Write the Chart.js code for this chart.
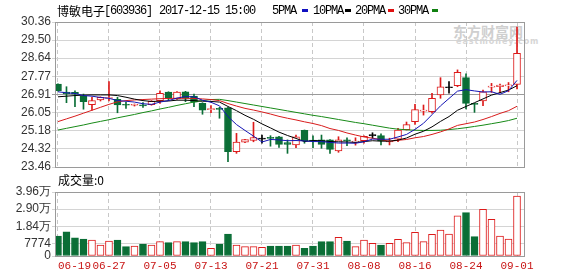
<!DOCTYPE html>
<html><head><meta charset="utf-8">
<script src="https://cdn.jsdelivr.net/npm/chart.js@4.4.1/dist/chart.umd.min.js"></script>
<style>
html,body{margin:0;padding:0;background:#fff;}
#wrap{position:relative;width:578px;height:276px;overflow:hidden;background:#fff;}
canvas{position:absolute;left:0;top:0;}
.t{position:absolute;white-space:nowrap;font-family:"Liberation Mono",monospace;font-size:12px;letter-spacing:-1.2px;color:#000;line-height:14px;top:4px;}
.k{position:absolute;width:6px;height:3px;top:9px;}
.wm{position:absolute;white-space:nowrap;}
</style></head><body>
<div id="wrap">
<div class="wm" style="left:453px;top:21px;font-family:'Noto Sans CJK SC';font-weight:bold;font-size:14px;color:#cfcfcf;">东方财富网</div>
<div class="wm" style="left:456px;top:37px;font-family:'DejaVu Sans';font-weight:bold;font-size:8px;letter-spacing:1px;color:#d6d6d6;">eastmoney.com</div>
<canvas id="c1" width="578" height="276"></canvas>
<canvas id="c2" width="578" height="276"></canvas>
<div class="t" style="left:57px;font-family:'Noto Sans CJK SC';letter-spacing:0;">博敏电子</div>
<div class="t" style="left:104px;">[603936]</div>
<div class="t" style="left:159px;">2017-12-15 15:00</div>
<div class="t" style="left:272px;">5PMA</div><div class="k" style="left:302px;background:#1010c0;"></div>
<div class="t" style="left:313px;">10PMA</div><div class="k" style="left:345px;background:#000;"></div>
<div class="t" style="left:355px;">20PMA</div><div class="k" style="left:388px;background:#e01010;"></div>
<div class="t" style="left:398px;">30PMA</div><div class="k" style="left:432px;background:#108010;"></div>
<div class="t" style="left:58px;top:173px;font-family:'Noto Sans CJK SC';letter-spacing:0;">成交量:0</div>
</div>
<script>
const dates = ['06-19','06-20','06-21','06-22','06-23','06-26','06-27','06-28','06-29','06-30','07-03','07-04','07-05','07-06','07-07','07-10','07-11','07-12','07-13','07-14','07-17','07-18','07-19','07-20','07-21','07-24','07-25','07-26','07-27','07-28','07-31','08-01','08-02','08-03','08-04','08-07','08-08','08-09','08-10','08-11','08-14','08-15','08-16','08-17','08-18','08-21','08-22','08-23','08-24','08-25','08-28','08-29','08-30','08-31','09-01'];
const open  = [27.40,27.03,27.01,26.84,26.43,26.65,26.72,26.68,26.42,26.40, 26.39,26.43,26.62,27.02,26.70,27.04,26.84,26.49,26.19,26.22, 26.28,24.19,24.64,24.73,24.79,24.84,24.90,24.62,24.51,25.21, 24.71,24.75,24.75,24.22,24.73,24.64,24.71,24.95,24.95,24.65, 24.79,25.24,25.62,26.12,26.09,26.89,27.23,27.33,27.71,26.46, 26.60,27.26,27.28,27.32,27.39];
const high  = [27.42,27.28,27.09,26.93,26.78,26.80,27.52,26.78,26.55,26.46, 26.52,26.62,27.09,27.04,27.05,27.06,26.93,26.52,26.38,26.30, 26.30,25.06,24.78,25.59,24.98,24.95,24.92,24.75,24.98,25.22, 24.94,24.98,24.76,24.90,24.85,24.85,24.94,25.09,25.04,24.83, 25.30,25.60,26.44,26.41,26.97,27.71,27.52,28.08,27.89,26.49, 27.12,27.44,27.40,27.48,30.12];
const low   = [27.07,26.52,26.33,26.21,26.17,26.60,26.60,26.04,26.25,26.36, 26.30,26.40,26.49,26.62,26.68,26.57,26.33,25.97,26.04,25.78, 23.71,24.11,24.62,24.66,24.59,24.45,24.39,24.11,24.38,24.59, 24.38,24.35,24.11,24.16,24.47,24.50,24.59,24.83,24.51,24.51, 24.66,25.22,25.49,25.93,26.02,26.73,26.97,27.28,26.22,26.06, 26.38,27.01,26.98,27.04,27.17];
const close = [27.09,26.95,26.93,26.57,26.62,26.78,26.74,26.41,26.40,26.42, 26.37,26.59,26.97,26.73,27.02,26.73,26.54,26.17,26.22,26.20, 24.19,24.64,24.76,24.86,24.79,24.82,24.54,24.54,24.90,24.70, 24.69,24.54,24.30,24.75,24.70,24.66,24.92,24.95,24.70,24.68, 25.22,25.48,26.19,26.15,26.73,27.28,27.23,27.97,26.49,26.44, 27.04,27.28,27.36,27.34,28.87];
const volume = [12400,15000,11300,10500,9900,6800,9300,9900,5800,6200, 7400,6800,8900,8300,8900,8900,8300,8900,4800,7400, 13600,6800,5800,5800,5400,6200,6200,6200,6800,4800, 6200,8900,8900,11600,9300,5800,9900,7800,6800,7800, 10300,8300,14600,8900,13400,16100,13600,24800,26800,12000, 28900,22700,12400,10500,37100];
const ma5  = [27.04,26.99,26.96,26.86,26.83,26.77,26.73,26.62,26.59,26.55, 26.47,26.44,26.55,26.62,26.74,26.81,26.80,26.64,26.54,26.37, 25.86,25.48,25.20,24.93,24.65,24.77,24.75,24.71,24.72,24.70, 24.67,24.67,24.63,24.60,24.60,24.59,24.66,24.79,24.78,24.78, 24.89,25.01,25.25,25.54,25.95,26.37,26.72,27.07,27.14,27.08, 27.03,27.04,26.92,27.09,27.58];
const ma10 = [26.80,26.83,26.86,26.88,26.89,26.89,26.89,26.86,26.78,26.69, 26.62,26.58,26.59,26.60,26.64,26.64,26.62,26.59,26.58,26.55, 26.34,26.14,25.92,25.73,25.51,25.32,25.12,24.96,24.82,24.67, 24.72,24.71,24.67,24.66,24.65,24.63,24.67,24.71,24.69,24.69, 24.74,24.84,25.02,25.16,25.37,25.63,25.86,26.16,26.34,26.52, 26.70,26.88,27.00,27.12,27.33];
const ma20 = [25.62,25.75,25.88,26.02,26.16,26.30,26.44,26.56,26.62,26.65, 26.67,26.69,26.71,26.72,26.73,26.73,26.72,26.70,26.67,26.62, 26.48,26.36,26.25,26.17,26.08,25.98,25.87,25.78,25.70,25.61, 25.53,25.43,25.29,25.20,25.08,24.98,24.89,24.83,24.76,24.68, 24.73,24.77,24.85,24.91,25.01,25.13,25.27,25.44,25.52,25.60, 25.72,25.86,26.01,26.14,26.35];
const ma30 = [25.22,25.30,25.38,25.46,25.55,25.63,25.71,25.80,25.88,25.96, 26.05,26.13,26.22,26.30,26.39,26.47,26.55,26.62,26.67,26.68, 26.62,26.55,26.48,26.41,26.34,26.27,26.20,26.13,26.06,25.99, 25.92,25.86,25.79,25.72,25.65,25.58,25.52,25.45,25.38,25.31, 25.26,25.23,25.21,25.20,25.20,25.21,25.24,25.28,25.33,25.39, 25.45,25.52,25.59,25.67,25.78];
const priceTicks = [30.36,29.50,28.64,27.77,26.91,26.05,25.18,24.32,23.46];
const volTicks = [0,7774,18400,29000,39600];
const volTickLabels = ['0','7774','1.84万','2.90万','3.96万'];
const dateTickIdx = [0,6,12,18,24,30,36,42,48,54];

const RED='#dd1a1a', GREEN='#0a6e36', BLACK='#000';
const X_MIN=-0.35, X_MAX=54.94;
const dir = i => close[i]>open[i]?1:(close[i]<open[i]?-1:0);
const candleCol = open.map((o,i)=>dir(i)>0?RED:(dir(i)<0?GREEN:BLACK));
const bodyFill = open.map((o,i)=>dir(i)>0?'#ffffff':candleCol[i]);
const volCol = open.map((o,i)=>dir(i)>=0?RED:GREEN);
const volFill = open.map((o,i)=>dir(i)>=0?'#ffffff':GREEN);

const frame = {id:'frame', afterDatasetsDraw(c){const a=c.chartArea,ctx=c.ctx;ctx.save();ctx.strokeStyle='#9a9a9a';ctx.lineWidth=1;ctx.strokeRect(Math.round(a.left)+0.5,Math.round(a.top)+0.5,Math.round(a.right-a.left)-1,Math.round(a.bottom-a.top));ctx.restore();}};
const vGrid = ctx => (ctx.tick && ctx.tick.value>54.5) ? 'rgba(0,0,0,0)' : '#c8c8c8';
const line = (d,col)=>({type:'line',data:d.map((v,i)=>({x:i,y:v})),borderColor:col,borderWidth:1,pointRadius:0,tension:0,order:0});

new Chart(document.getElementById('c1'),{
  type:'bar',
  data:{datasets:[
    line(ma5,'#1414b4'), line(ma10,'#000000'), line(ma20,'#d81c1c'), line(ma30,'#178a17'),
    {type:'bar',data:open.map((o,i)=>({x:i,y:[Math.min(o,close[i]),Math.max(o,close[i])]})),backgroundColor:bodyFill,borderColor:candleCol,borderWidth:1,borderSkipped:false,barThickness:7,minBarLength:1,grouped:false,order:1},
    {type:'bar',data:high.map((h,i)=>({x:i,y:[low[i],h]})),backgroundColor:candleCol,borderWidth:0,barThickness:1,grouped:false,order:2}
  ]},
  options:{responsive:false,animation:false,events:[],
    layout:{padding:{left:0,right:53,top:22,bottom:109}},
    plugins:{legend:{display:false},tooltip:{enabled:false}},
    scales:{
      x:{type:'linear',offset:false,min:X_MIN,max:X_MAX,afterBuildTicks:s=>{s.ticks=dateTickIdx.map(v=>({value:v}));},afterFit:s=>{s.height=0;},
         ticks:{display:false},grid:{offset:false,color:vGrid,drawTicks:false},border:{display:false,dash:[4,3]}},
      y:{min:23.46,max:30.36,afterBuildTicks:s=>{s.ticks=priceTicks.map(v=>({value:v}));},afterFit:s=>{s.width=55;},
         ticks:{callback:v=>v.toFixed(2),font:{family:'Liberation Sans',size:12},color:'#333',padding:1,autoSkip:false},
         grid:{color:ctx=>(ctx.tick&&Math.abs(ctx.tick.value-26.91)<0.001)?'#9a9a9a':'#d4d4d4',tickLength:3},border:{display:false}}
    }},
  plugins:[frame]
});

new Chart(document.getElementById('c2'),{
  type:'bar',
  data:{datasets:[
    {data:volume.map((v,i)=>({x:i,y:v})),backgroundColor:volFill,borderColor:volCol,borderWidth:1,borderSkipped:false,barThickness:7,grouped:false}
  ]},
  options:{responsive:false,animation:false,events:[],
    layout:{padding:{left:0,right:53,top:192,bottom:0}},
    plugins:{legend:{display:false},tooltip:{enabled:false}},
    scales:{
      x:{type:'linear',offset:false,min:X_MIN,max:X_MAX,afterBuildTicks:s=>{s.ticks=dateTickIdx.concat([X_MAX]).map(v=>({value:v}));},afterFit:s=>{s.height=20;},
         ticks:{align:'inner',autoSkip:false,maxRotation:0,color:'#c81414',font:{family:'Liberation Mono',size:11},padding:3,callback:v=>(Number.isInteger(v)&&dates[v])?dates[v]:''},
         grid:{offset:false,color:vGrid,drawTicks:false},border:{display:false,dash:[4,3]}},
      y:{min:0,max:39600,afterBuildTicks:s=>{s.ticks=volTicks.map(v=>({value:v}));},afterFit:s=>{s.width=55;},
         ticks:{callback:v=>volTickLabels[volTicks.indexOf(v)],font:{family:'Liberation Sans',size:12},color:'#333',padding:1,autoSkip:false},
         grid:{color:'#d4d4d4',tickLength:3},border:{display:false}}
    }},
  plugins:[frame]
});
</script>
</body></html>
